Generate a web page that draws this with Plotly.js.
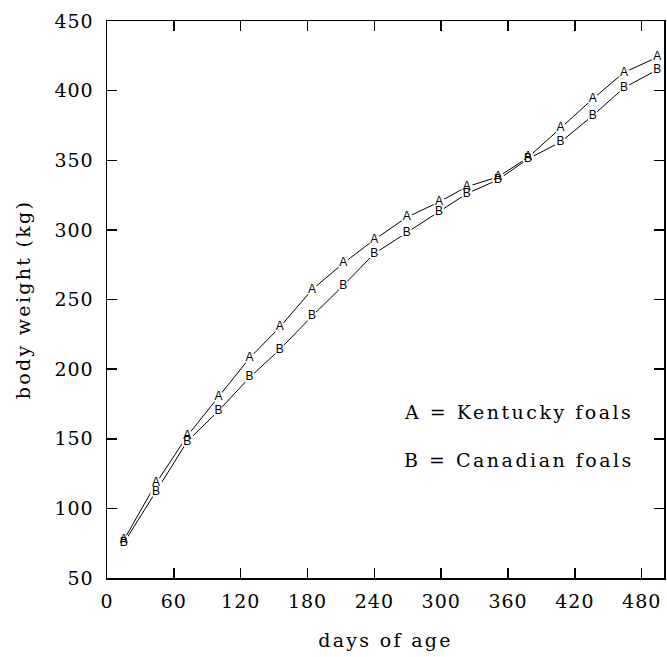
<!DOCTYPE html>
<html>
<head>
<meta charset="utf-8">
<script src="https://cdn.plot.ly/plotly-3.0.1.min.js"></script>
<style>
  html, body { margin: 0; padding: 0; background: #fff; }
  #chart { width: 667px; height: 657px; }
  .xtick text, .ytick text { letter-spacing: 1px; }
  .xtitle, .ytitle { letter-spacing: 2.3px; }
  .annotation-text { letter-spacing: 2.5px; }
</style>
</head>
<body>
<div id="chart"></div>
<script>
// Days of age at each weighing
const days = [15, 44, 72, 100, 128, 155, 184, 212, 240, 269, 298, 323, 351, 378, 407, 436, 464, 494];
// A = Kentucky foals, body weight (kg)
const kentucky = [77, 118, 152, 180, 208, 230, 257, 276, 293, 309, 320, 331, 338, 352, 373, 394, 413, 424];
// B = Canadian foals, body weight (kg)
const canadian = [75, 112, 148, 170, 194, 214, 238, 260, 283, 298, 313, 326, 336, 351, 363, 382, 402, 415];
// Axis ticks
const xTicks = [0, 60, 120, 180, 240, 300, 360, 420, 480];
const yTicks = [50, 100, 150, 200, 250, 300, 350, 400, 450];
const legendLines = ["A = Kentucky foals", "B = Canadian foals"];

const serif = "DejaVu Serif, serif";
const labelFont = {family: "Liberation Sans, Arial, sans-serif", size: 12, color: "#000000"};

function lineTrace(y) {
  return {x: days, y: y, mode: "lines", line: {color: "#000", width: 1}, hoverinfo: "skip", showlegend: false};
}
function maskTrace(y) {
  return {x: days, y: y, mode: "markers", marker: {symbol: "circle", size: 12, color: "#fff", line: {width: 0}}, hoverinfo: "skip", showlegend: false};
}
function textTrace(y, ch) {
  return {x: days, y: y, mode: "text", text: days.map(() => ch), textposition: "middle center", textfont: labelFont, hoverinfo: "skip", showlegend: false};
}

const data = [
  lineTrace(kentucky), lineTrace(canadian),
  maskTrace(kentucky), maskTrace(canadian),
  textTrace(kentucky, "A"), textTrace(canadian, "B")
];

const axisCommon = {
  showgrid: false, zeroline: false,
  showline: true, linecolor: "#000", linewidth: 1.5, mirror: "ticks",
  ticks: "inside", ticklen: 10, tickwidth: 1.5, tickcolor: "#000",
  tickfont: {family: serif, size: 19, color: "#000"}
};

const layout = {
  width: 667, height: 657,
  margin: {l: 107, r: 3, t: 21, b: 79},
  paper_bgcolor: "#fff", plot_bgcolor: "#fff",
  showlegend: false,
  xaxis: Object.assign({}, axisCommon, {
    range: [0, 500], tickvals: xTicks, ticktext: xTicks.map(String),
    ticklabelstandoff: 6,
    title: {text: "days of age", font: {family: serif, size: 19, color: "#000"}, standoff: 22}
  }),
  yaxis: Object.assign({}, axisCommon, {
    range: [50, 450], tickvals: yTicks, ticktext: yTicks.map(String),
    ticklabelstandoff: 8,
    title: {text: "body weight (kg)", font: {family: serif, size: 19, color: "#000"}, standoff: 19}
  }),
  annotations: [
    {xref: "paper", yref: "paper", x: 0.529, y: 0.298, xanchor: "left", yanchor: "middle", showarrow: false,
     text: legendLines[0], font: {family: serif, size: 19, color: "#000"}},
    {xref: "paper", yref: "paper", x: 0.529, y: 0.212, xanchor: "left", yanchor: "middle", showarrow: false,
     text: legendLines[1], font: {family: serif, size: 19, color: "#000"}}
  ]
};

Plotly.newPlot("chart", data, layout, {staticPlot: true, displayModeBar: false});
</script>
</body>
</html>
